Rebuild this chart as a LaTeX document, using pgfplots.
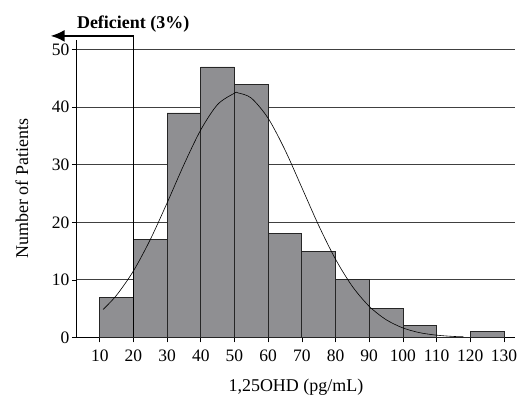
\documentclass[border=0pt]{standalone}
\usepackage{fontspec}
\setmainfont{Liberation Serif}
\usepackage{pgfplots}
\pgfplotsset{compat=1.18}
\usetikzlibrary{arrows.meta}
\definecolor{barfill}{RGB}{143,143,146}
\begin{document}
\begin{tikzpicture}
\begin{axis}[
  name=ax,
  scale only axis,
  width=439pt, height=298pt,
  xmin=3.2, xmax=133.3,
  ymin=0, ymax=51.7,
  axis lines=left,
  axis line style={-, line width=0.8pt},
  xtick={10,20,...,130},
  ytick={0,10,...,50},
  tick align=outside,
  major tick length=5pt,
  tick style={black, line width=0.6pt},
  ymajorgrids,
  major grid style={black!75, line width=0.7pt},
  /pgf/number format/assume math mode=true,
  ticklabel style={font=\fontsize{17.5}{20}\selectfont},
  xticklabel style={yshift=-4pt},
  yticklabel style={xshift=1pt},
  xlabel={1,25OHD (pg/mL)},
  ylabel={Number of Patients},
  label style={font=\fontsize{18}{20}\selectfont},
  xlabel style={at={(axis description cs:0.5,0)}, anchor=center, yshift=-50pt},
  ylabel style={at={(axis description cs:0,0.5)}, anchor=center, yshift=55pt},
  clip=false,
]
\addplot[ybar interval, fill=barfill, draw=black!85, line width=0.7pt] coordinates {
  (10,7) (20,17) (30,39) (40,47) (50,44) (60,18) (70,15) (80,10) (90,5) (100,2) (110,0) (120,1) (130,1)
};
\addplot[black, line width=0.6pt, smooth] coordinates {
  (11,4.85) (15,7.33) (20,11.54) (25,16.99) (30,23.37) (35,30.03) (40,36.07) (45,40.48) (50,42.44) (51,42.5) (55,41.59) (60,38.08) (65,32.58) (70,26.04) (75,19.46) (80,13.59) (85,8.86) (90,5.40) (95,3.08) (100,1.64) (105,0.81) (110,0.38) (115,0.16) (118,0.10)
};
\draw[line width=1.5pt] (axis cs:20,0) -- (axis cs:20,52.4);
\draw[line width=2.2pt, -{Latex[length=14pt,width=12pt]}] (axis cs:20.2,52.4) -- (axis cs:-4.6,52.4);
\node[font=\bfseries\fontsize{18}{20}\selectfont, anchor=base west, inner sep=0pt] at (axis cs:3.2,53.6) {Deficient (3\%)};
\end{axis}
\pgfresetboundingbox
\path ([shift={(-77pt,-58pt)}]ax.south west) rectangle ([shift={(3pt,40pt)}]ax.north east);
\end{tikzpicture}
\end{document}
